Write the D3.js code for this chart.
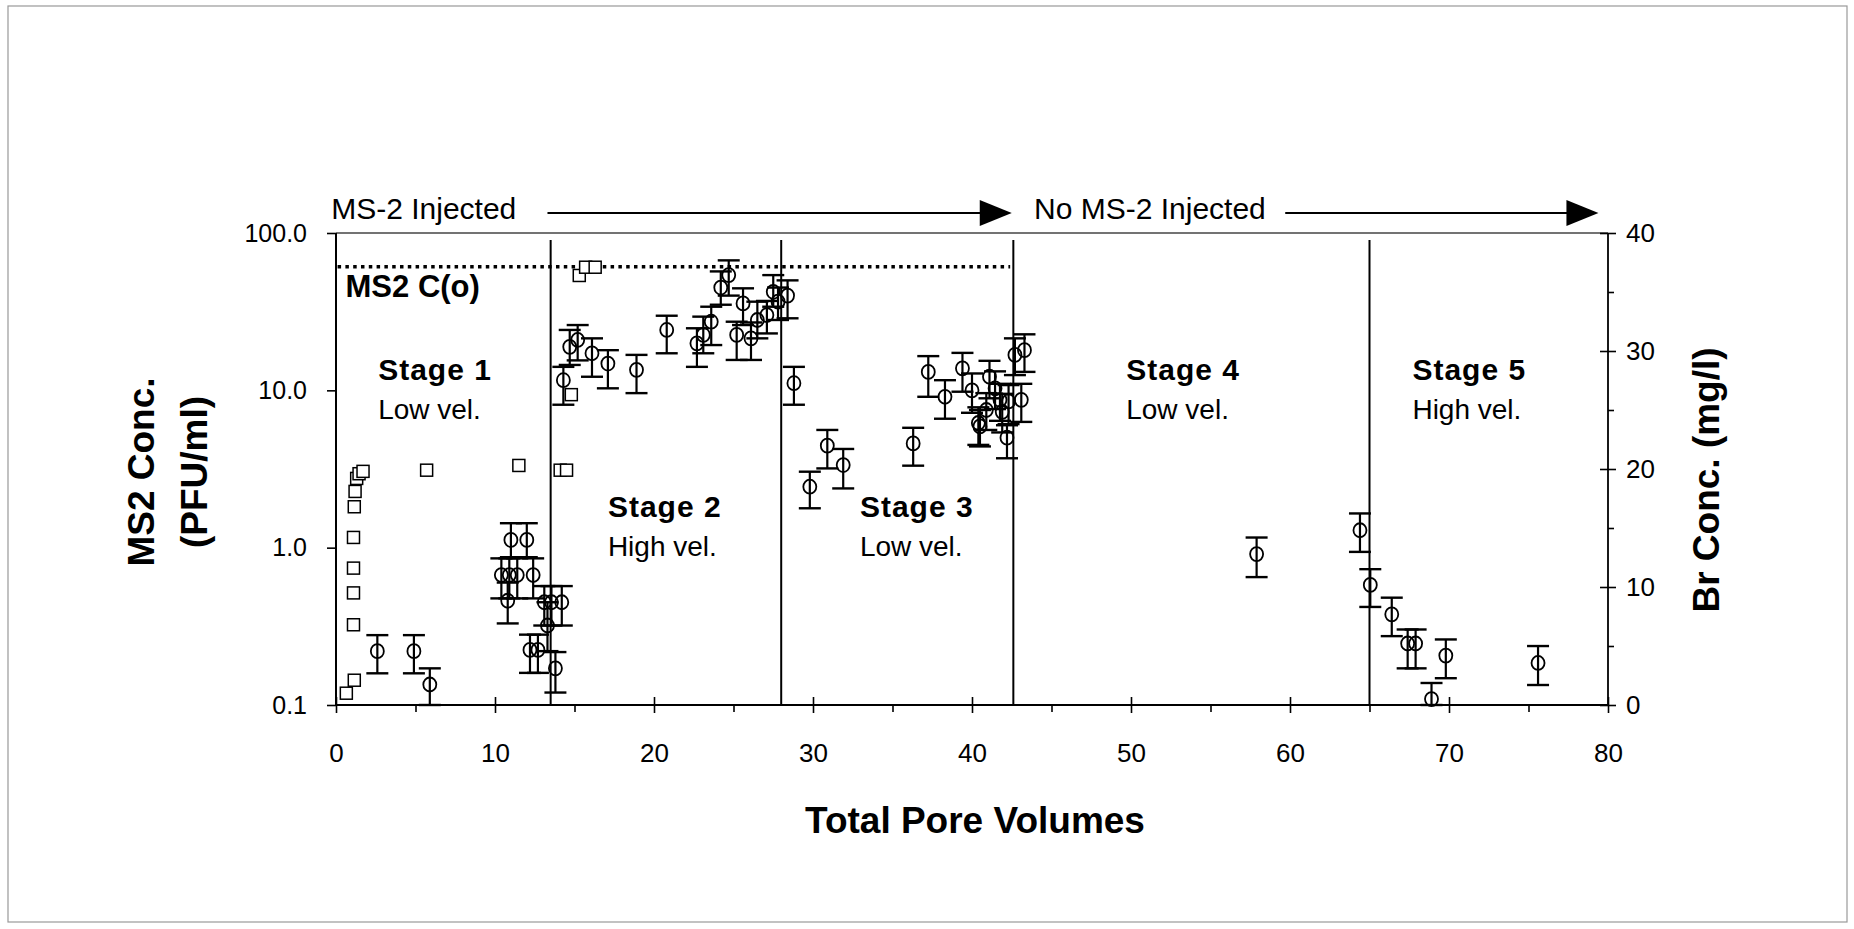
<!DOCTYPE html>
<html>
<head>
<meta charset="utf-8">
<script src="https://cdn.jsdelivr.net/npm/d3@7"></script>
<style>
  body { margin: 0; background: #fff; }
  text { font-family: "Liberation Sans", Arial, sans-serif; fill: #000; }
</style>
</head>
<body>
<div id="chart"></div>
<script>
// Br tracer (squares, right axis, mg/l)
var br_pv   = [0.65, 1.15, 1.1, 1.1, 1.1, 1.1, 1.15, 1.2, 1.3, 1.45, 1.7, 5.7, 11.5, 14.1, 14.5, 14.8, 15.3, 15.7, 16.3];
var br_conc = [1.0, 2.1, 6.8, 9.5, 11.6, 14.2, 16.8, 18.1, 19.2, 19.6, 19.8, 19.9, 20.3, 19.9, 19.9, 26.3, 36.4, 37.1, 37.1];

// MS2 (circles with error bars, left log axis, PFU/ml)
var ms2_pv = [2.6, 4.9, 5.9, 10.4, 10.8, 10.9, 11.0, 11.4, 12.0, 12.4, 12.2, 12.7, 13.1, 13.3, 13.55, 13.8, 14.2,
  14.3, 14.7, 15.2, 16.1, 17.1, 18.9, 20.8, 22.7, 23.1, 23.6, 24.2, 24.7, 25.2, 25.6, 26.1, 26.5, 27.1, 27.5, 27.8, 28.4, 28.8,
  29.8, 30.9, 31.9, 36.3, 37.25, 38.3, 39.4, 40.0, 40.4, 40.5, 40.9, 41.1, 41.45, 41.76, 41.9, 42.2, 42.3, 42.7, 43.1, 43.3,
  57.9, 64.4, 65.05, 66.4, 67.4, 67.9, 68.9, 69.8, 75.6];
var ms2_conc = [0.22, 0.22, 0.135, 0.67, 0.46, 0.67, 1.12, 0.67, 1.12, 0.67, 0.224, 0.224, 0.45, 0.32, 0.45, 0.171, 0.45,
  11.6, 18.9, 20.9, 17.2, 14.8, 13.5, 24.2, 19.9, 22.5, 27.3, 45, 54, 22.5, 35.7, 21.4, 28.0, 30.1, 42.3, 36.6, 40, 11.1,
  2.44, 4.45, 3.35, 4.6, 13.1, 9.1, 13.8, 10.0, 6.2, 5.9, 7.5, 12.2, 10.3, 8.7, 7.3, 5.0, 8.5, 16.8, 8.7, 18.0,
  0.91, 1.29, 0.58, 0.377, 0.246, 0.246, 0.109, 0.206, 0.185];
var ms2_lo = [0.159, 0.159, 0.1, 0.476, 0.33, 0.476, 0.87, 0.476, 0.87, 0.476, 0.16, 0.16, 0.32, 0.22, 0.32, 0.12, 0.32,
  8.1, 14.5, 15.5, 12.2, 10.3, 9.6, 17.2, 14.1, 17.2, 19.4, 35, 40, 15.6, 26.0, 15.6, 21.4, 23, 34, 28, 28.7, 8.1,
  1.78, 3.19, 2.38, 3.32, 9.1, 6.6, 9.8, 7.2, 4.5, 4.4, 5.6, 8.9, 7.6, 6.4, 5.4, 3.7, 6.1, 12.5, 6.3, 13.1,
  0.65, 0.94, 0.42, 0.274, 0.171, 0.171, 0.1, 0.148, 0.134];
var ms2_hi = [0.278, 0.278, 0.171, 0.855, 0.6, 0.855, 1.43, 0.855, 1.43, 0.855, 0.28, 0.28, 0.57, 0.45, 0.57, 0.217, 0.57,
  14.1, 24.2, 26.0, 21.4, 18.0, 16.8, 29.8, 24.8, 29.4, 34.0, 57, 67, 27.3, 44.5, 27, 36.6, 37, 54, 45, 50, 14.1,
  3.04, 5.6, 4.24, 5.78, 16.5, 11.6, 17.3, 12.8, 7.8, 7.5, 9.6, 15.4, 13.2, 11, 9.5, 6.0, 10.8, 21.4, 11, 22.7,
  1.16, 1.65, 0.73, 0.481, 0.302, 0.302, 0.138, 0.261, 0.237];

// MS2 input concentration and stage boundaries
var ms2_c0 = 61;
var c0_end = 42.4;
var stage_bounds = [13.5, 28, 42.6, 65];
var stage_names = ['Stage 1', 'Stage 2', 'Stage 3', 'Stage 4', 'Stage 5'];
var stage_vel = ['Low vel.', 'High vel.', 'Low vel.', 'Low vel.', 'High vel.'];
var stage_label_pv = [2.65, 17.1, 32.95, 49.7, 67.7];

// tick values
var x_major = [0, 10, 20, 30, 40, 50, 60, 70, 80];
var x_minor = [5, 15, 25, 35, 45, 55, 65, 75];
var y_left_ticks = [0.1, 1, 10, 100];
var y_right_major = [0, 10, 20, 30, 40];
var y_right_minor = [5, 15, 25, 35];

const svg_width = 1854;
const svg_height = 929;
const plot_left = 336, plot_right = 1608, plot_top = 233, plot_bottom = 705;
const font = '"Liberation Sans", Arial, sans-serif';

var svg = d3.select('#chart').append('svg')
  .attr('width', svg_width)
  .attr('height', svg_height);

svg.append('rect')
  .attr('width', svg_width).attr('height', svg_height)
  .attr('fill', '#fff');

// outer frame
svg.append('rect')
  .attr('x', 8).attr('y', 6)
  .attr('width', 1839).attr('height', 916)
  .attr('fill', 'none')
  .attr('stroke', '#999')
  .attr('stroke-width', 1.2);

var x = d3.scaleLinear().domain([0, 80]).range([plot_left, plot_right]);
var y = d3.scaleLog().domain([0.1, 100]).range([plot_bottom, plot_top]);
var y_br = d3.scaleLinear().domain([0, 40]).range([plot_bottom, plot_top]);

// plot frame
svg.append('line')
  .attr('x1', plot_left).attr('x2', plot_right).attr('y1', plot_top).attr('y2', plot_top)
  .attr('stroke', '#444').attr('stroke-width', 1.3);
svg.append('line')
  .attr('x1', plot_left).attr('x2', plot_left).attr('y1', plot_top).attr('y2', plot_bottom)
  .attr('stroke', '#000').attr('stroke-width', 2);
svg.append('line')
  .attr('x1', plot_right).attr('x2', plot_right).attr('y1', plot_top).attr('y2', plot_bottom)
  .attr('stroke', '#000').attr('stroke-width', 1.8);
svg.append('line')
  .attr('x1', plot_left).attr('x2', plot_right).attr('y1', plot_bottom).attr('y2', plot_bottom)
  .attr('stroke', '#000').attr('stroke-width', 2);

// axes
function style_axis(g, size) {
  g.select('.domain').remove();
  g.selectAll('line').attr('stroke', '#000').attr('stroke-width', 1.6);
  g.selectAll('text').style('font-family', font).style('font-size', size + 'px').attr('fill', '#000');
}

var y_axis = d3.axisLeft(y)
  .tickValues(y_left_ticks)
  .tickFormat(d3.format('.1f'))
  .tickSize(9)
  .tickPadding(20);
svg.append('g')
  .attr('transform', `translate(${plot_left},0)`)
  .call(y_axis)
  .call(function(g) { style_axis(g, 25); });

var x_axis = d3.axisBottom(x)
  .tickValues(x_major)
  .tickSize(8)
  .tickPadding(31);
svg.append('g')
  .attr('transform', `translate(0,${plot_bottom})`)
  .call(x_axis)
  .call(function(g) {
    style_axis(g, 26);
    g.selectAll('line').attr('y1', -8);
  });

var x_axis_minor = d3.axisBottom(x)
  .tickValues(x_minor)
  .tickFormat('')
  .tickSize(7);
svg.append('g')
  .attr('transform', `translate(0,${plot_bottom})`)
  .call(x_axis_minor)
  .call(function(g) { style_axis(g, 26); });

var y_br_axis = d3.axisRight(y_br)
  .tickValues(y_right_major)
  .tickSize(8)
  .tickPadding(10);
svg.append('g')
  .attr('transform', `translate(${plot_right},0)`)
  .call(y_br_axis)
  .call(function(g) {
    style_axis(g, 26);
    g.selectAll('line').attr('x1', -8);
  });

var y_br_minor = d3.axisRight(y_br)
  .tickValues(y_right_minor)
  .tickFormat('')
  .tickSize(6);
svg.append('g')
  .attr('transform', `translate(${plot_right},0)`)
  .call(y_br_minor)
  .call(function(g) { style_axis(g, 26); });

// axis titles
svg.append('text')
  .attr('transform', 'translate(154,472) rotate(-90)')
  .attr('text-anchor', 'middle')
  .style('font-size', '37px').style('font-weight', 'bold')
  .text('MS2 Conc.');
svg.append('text')
  .attr('transform', 'translate(207,472) rotate(-90)')
  .attr('text-anchor', 'middle')
  .style('font-size', '37px').style('font-weight', 'bold')
  .text('(PFU/ml)');
svg.append('text')
  .attr('transform', 'translate(1719,480) rotate(-90)')
  .attr('text-anchor', 'middle')
  .style('font-size', '37px').style('font-weight', 'bold')
  .text('Br Conc. (mg/l)');
svg.append('text')
  .attr('x', (plot_left + plot_right) / 2 + 3)
  .attr('y', 833)
  .attr('text-anchor', 'middle')
  .style('font-size', '37px').style('font-weight', 'bold')
  .text('Total Pore Volumes');

// stage boundaries
svg.selectAll('.stage_line').data(stage_bounds).enter()
  .append('line')
  .attr('class', 'stage_line')
  .attr('x1', function(d) { return x(d); })
  .attr('x2', function(d) { return x(d); })
  .attr('y1', plot_top + 7)
  .attr('y2', plot_bottom)
  .attr('stroke', '#000')
  .attr('stroke-width', 2);

// MS2 C(o) dotted line
svg.append('line')
  .attr('x1', x(0.1)).attr('x2', x(c0_end))
  .attr('y1', y(ms2_c0)).attr('y2', y(ms2_c0))
  .attr('stroke', '#000')
  .attr('stroke-width', 3.5)
  .attr('stroke-dasharray', '3.5,4.3');
svg.append('text')
  .attr('x', x(0.6)).attr('y', 297)
  .style('font-size', '31px').style('font-weight', 'bold')
  .text('MS2 C(o)');

// stage labels
var stage_row = [0, 1, 1, 0, 0];
stage_names.forEach(function(name, i) {
  var base = stage_row[i] ? 517 : 380;
  svg.append('text')
    .attr('x', x(stage_label_pv[i])).attr('y', base)
    .style('font-size', '30px').style('font-weight', 'bold')
    .style('letter-spacing', '1px')
    .text(name);
  svg.append('text')
    .attr('x', x(stage_label_pv[i])).attr('y', base + 39)
    .style('font-size', '28px')
    .text(stage_vel[i]);
});

// injection arrows
var arrow_text = ['MS-2 Injected', 'No MS-2 Injected'];
var arrow_text_pv = [-0.3, 43.9];
var arrow_start = [13.3, 59.7];
var arrow_end = [42.5, 79.4];
var arrow_y = 213;
arrow_text.forEach(function(t, i) {
  svg.append('text')
    .attr('x', x(arrow_text_pv[i])).attr('y', 219)
    .style('font-size', '30px')
    .text(t);
  svg.append('line')
    .attr('x1', x(arrow_start[i])).attr('x2', x(arrow_end[i]) - 28)
    .attr('y1', arrow_y).attr('y2', arrow_y)
    .attr('stroke', '#000').attr('stroke-width', 2.2);
  var tip = x(arrow_end[i]);
  svg.append('path')
    .attr('d', `M${tip},${arrow_y} L${tip - 32},${arrow_y - 13} L${tip - 32},${arrow_y + 13} Z`)
    .attr('fill', '#000');
});

// Br squares
var br_data = br_pv.map(function(d, i) { return {pv: d, c: br_conc[i]}; });
svg.selectAll('.br').data(br_data).enter()
  .append('rect')
  .attr('class', 'br')
  .attr('x', function(d) { return x(d.pv) - 6; })
  .attr('y', function(d) { return y_br(d.c) - 6; })
  .attr('width', 12)
  .attr('height', 12)
  .attr('fill', '#fff')
  .attr('stroke', '#000')
  .attr('stroke-width', 1.5);

// MS2 circles with error bars
var ms2_data = ms2_pv.map(function(d, i) {
  return {pv: d, c: ms2_conc[i], lo: ms2_lo[i], hi: ms2_hi[i]};
});
var pts = svg.selectAll('.ms2').data(ms2_data).enter()
  .append('g')
  .attr('class', 'ms2');

pts.append('line')
  .attr('x1', function(d) { return x(d.pv); })
  .attr('x2', function(d) { return x(d.pv); })
  .attr('y1', function(d) { return y(d.lo); })
  .attr('y2', function(d) { return y(d.hi); })
  .attr('stroke', '#000').attr('stroke-width', 2.2);
pts.append('line')
  .attr('x1', function(d) { return x(d.pv) - 11; })
  .attr('x2', function(d) { return x(d.pv) + 11; })
  .attr('y1', function(d) { return y(d.hi); })
  .attr('y2', function(d) { return y(d.hi); })
  .attr('stroke', '#000').attr('stroke-width', 2.4);
pts.append('line')
  .attr('x1', function(d) { return x(d.pv) - 11; })
  .attr('x2', function(d) { return x(d.pv) + 11; })
  .attr('y1', function(d) { return y(d.lo); })
  .attr('y2', function(d) { return y(d.lo); })
  .attr('stroke', '#000').attr('stroke-width', 2.4);
pts.append('ellipse')
  .attr('cx', function(d) { return x(d.pv); })
  .attr('cy', function(d) { return y(d.c); })
  .attr('rx', 6.5)
  .attr('ry', 7)
  .attr('fill', 'none')
  .attr('stroke', '#000')
  .attr('stroke-width', 1.8);
</script>
</body>
</html>
